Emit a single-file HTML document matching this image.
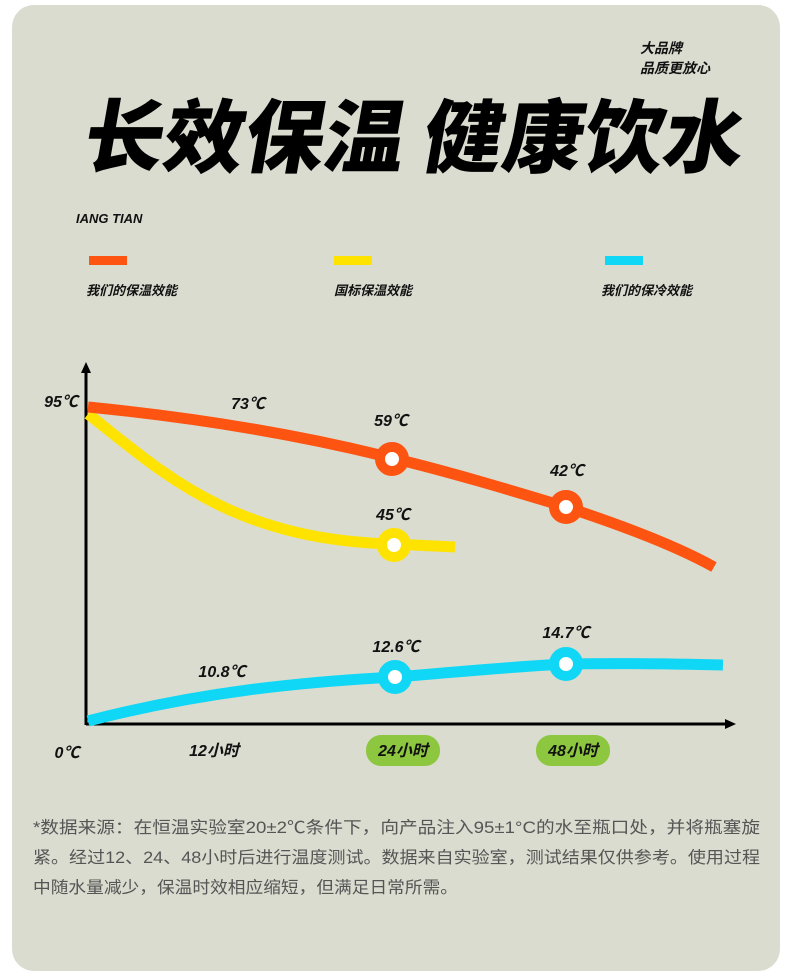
<!DOCTYPE html>
<html><head><meta charset="utf-8"><style>
html,body{margin:0;padding:0;background:#fff;}
svg{display:block;}
</style></head><body>
<svg width="790" height="978" viewBox="0 0 790 978" xmlns="http://www.w3.org/2000/svg">
<rect x="12" y="5" width="768" height="966" rx="22" fill="#dadcd0"/>
<g font-family="Liberation Sans, Noto Sans CJK SC, sans-serif" font-weight="bold" font-style="italic">
<text x="640" y="53" font-size="14" fill="#111">大品牌</text>
<text x="640" y="73" font-size="14" fill="#111">品质更放心</text>
</g>
<g transform="translate(80,166) skewX(-10)">
<text x="0" y="0" font-family="Noto Sans CJK SC, sans-serif" font-weight="900" font-size="80" fill="#000" textLength="660" lengthAdjust="spacingAndGlyphs">长效保温 健康饮水</text>
</g>
<g font-family="Liberation Sans, Noto Sans CJK SC, sans-serif" font-weight="bold" font-style="italic" fill="#111">
<text x="76" y="223" font-size="13">IANG TIAN</text>
<text x="86" y="295" font-size="13">我们的保温效能</text>
<text x="334" y="295" font-size="13">国标保温效能</text>
<text x="601" y="295" font-size="13">我们的保冷效能</text>
</g>
<rect x="89" y="256" width="38" height="9" fill="#fd5412"/>
<rect x="334" y="256" width="38" height="9" fill="#ffe300"/>
<rect x="605" y="256" width="38" height="9" fill="#10d7f5"/>
<line x1="86" y1="370" x2="86" y2="725" stroke="#000" stroke-width="3"/>
<polygon points="86,362 81,373 91,373" fill="#000"/>
<line x1="86" y1="724" x2="728" y2="724" stroke="#000" stroke-width="3"/>
<polygon points="736,724 725,719 725,729" fill="#000"/>
<path d="M88,414 C160,470 230,540 393,544 L455,547" fill="none" stroke="#ffe300" stroke-width="11"/>
<path d="M88,407 C200,418 300,435 392,458 C450,472 510,490 566,507 C630,528 680,548 714,567" fill="none" stroke="#fd5412" stroke-width="11"/>
<path d="M88,721 C200,692 300,682 395,677 C470,671 520,666 566,664 C620,663 680,664 723,665" fill="none" stroke="#10d7f5" stroke-width="11"/>
<g stroke-width="10" fill="#fff">
<circle cx="392" cy="459" r="12" stroke="#fd5412"/>
<circle cx="566" cy="507" r="12" stroke="#fd5412"/>
<circle cx="394" cy="545" r="12" stroke="#ffe300"/>
<circle cx="395" cy="677" r="12" stroke="#10d7f5"/>
<circle cx="566" cy="664" r="12" stroke="#10d7f5"/>
</g>
<g font-family="Liberation Sans, Noto Sans CJK SC, sans-serif" font-weight="bold" font-style="italic" font-size="16" fill="#111" text-anchor="middle">
<text x="61" y="407">95℃</text>
<text x="248" y="409">73℃</text>
<text x="391" y="426">59℃</text>
<text x="567" y="476">42℃</text>
<text x="393" y="520">45℃</text>
<text x="396" y="652">12.6℃</text>
<text x="566" y="638">14.7℃</text>
<text x="222" y="677">10.8℃</text>
<text x="67" y="758">0℃</text>
<text x="214" y="756">12小时</text>
</g>
<rect x="366" y="735" width="74" height="31" rx="15" fill="#8dc63f"/>
<rect x="536" y="735" width="74" height="31" rx="15" fill="#8dc63f"/>
<g font-family="Liberation Sans, Noto Sans CJK SC, sans-serif" font-weight="bold" font-style="italic" font-size="16" fill="#111" text-anchor="middle">
<text x="403" y="756">24小时</text>
<text x="573" y="756">48小时</text>
</g>
<g font-family="Liberation Sans, Noto Sans CJK SC, sans-serif" font-size="16.5" fill="#555">
<text x="33" y="833" textLength="727" lengthAdjust="spacingAndGlyphs">*数据来源：在恒温实验室20±2℃条件下，向产品注入95±1°C的水至瓶口处，并将瓶塞旋</text>
<text x="33" y="863" textLength="727" lengthAdjust="spacingAndGlyphs">紧。经过12、24、48小时后进行温度测试。数据来自实验室，测试结果仅供参考。使用过程</text>
<text x="33" y="893" textLength="425" lengthAdjust="spacingAndGlyphs">中随水量减少，保温时效相应缩短，但满足日常所需。</text>
</g>
</svg>
</body></html>
